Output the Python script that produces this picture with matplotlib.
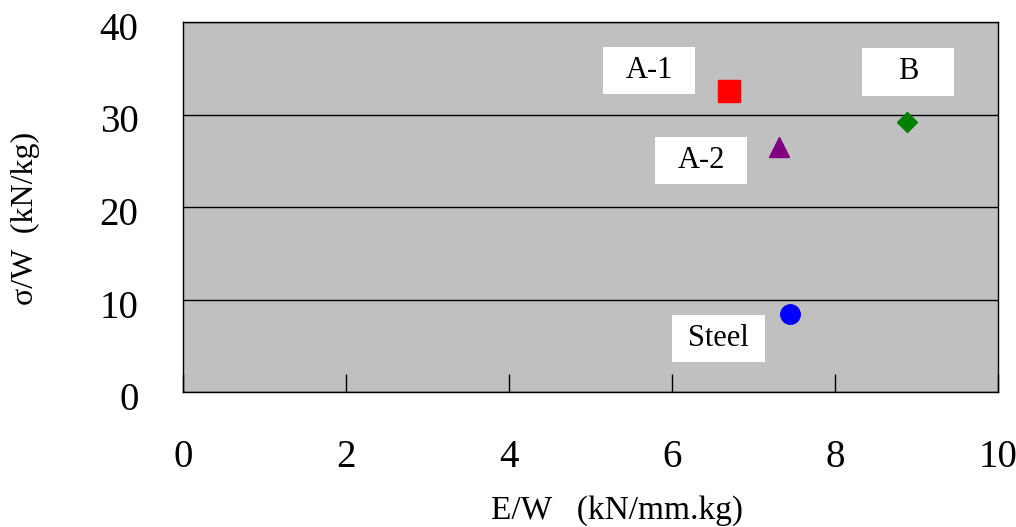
import matplotlib
matplotlib.use('Agg')
from matplotlib import pyplot as plt
from matplotlib.patches import Rectangle
from matplotlib.transforms import ScaledTranslation

# specimen data
names = ['A-1', 'A-2', 'B', 'Steel']
ew = [6.70, 7.31, 8.88, 7.45]          # E/W  (kN/mm.kg)
sw = [32.5, 26.5, 29.2, 8.4]           # sigma/W  (kN/kg)
markers = ['s', '^', 'D', 'o']
colors = ['#ff0000', '#800080', '#008000', '#0000ff']
sizes = [16, 14, 10, 14]

# label text boxes (centres, data coordinates)
label_x = [5.72, 6.36, 8.90, 6.57]
label_y = [34.8, 25.0, 34.6, 5.8]
box_w, box_h = 1.13, 5.1

xticks = [0, 2, 4, 6, 8, 10]
yticks = [0, 10, 20, 30, 40]

plt.rcParams['font.family'] = ['Liberation Serif', 'DejaVu Serif']

fig = plt.figure(figsize=(10.16, 5.27), dpi=100)
ax = fig.add_axes([183/1016, 1 - 392/527, 815/1016, 370/527])
ax.set_facecolor('#c0c0c0')

for i in range(len(names)):
    ax.plot(ew[i], sw[i], marker=markers[i], color=colors[i],
            markersize=sizes[i], linestyle='none', zorder=4)
    ax.add_patch(Rectangle((label_x[i] - box_w/2, label_y[i] - box_h/2),
                           box_w, box_h, facecolor='white',
                           edgecolor='none', zorder=3))
    ax.text(label_x[i], label_y[i], names[i], ha='center', va='center',
            fontsize=22, zorder=5)

ax.set_xlim(0, 10)
ax.set_ylim(0, 40)
ax.set_xticks(xticks)
ax.set_yticks(yticks)
ax.yaxis.grid(True, color='black', linewidth=1)
ax.set_axisbelow(True)

ax.tick_params(axis='x', direction='in', length=13, width=1,
               pad=34, labelsize=28)
ax.tick_params(axis='y', length=0, pad=32, labelsize=28)
# y tick labels sit a little low in the original
shift = ScaledTranslation(0, -4/100, fig.dpi_scale_trans)
for lab in ax.get_yticklabels():
    lab.set_transform(lab.get_transform() + shift)
for s in ax.spines.values():
    s.set_color('black')
    s.set_linewidth(1)

ax.set_xlabel('E/W   (kN/mm.kg)', fontsize=24, labelpad=14)
ax.xaxis.label.set_x(0.532)
ax.set_ylabel('σ/W  (kN/kg)', fontsize=23, labelpad=43)
ax.yaxis.label.set_y(0.47)

fig.savefig('out.png', dpi=100)
